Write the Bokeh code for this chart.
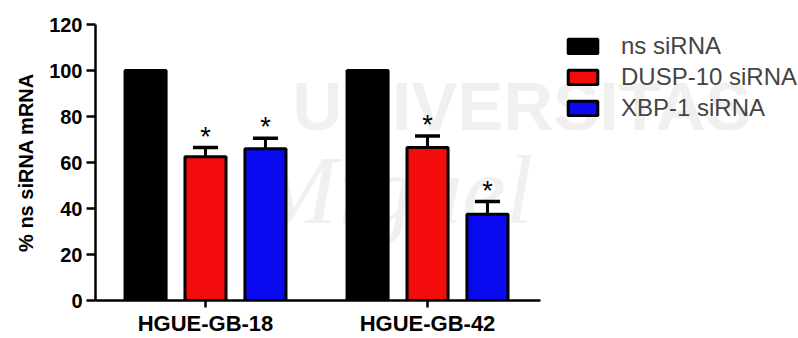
from bokeh.plotting import figure
from bokeh.models import (ColumnDataSource, Range1d, Legend, LegendItem,
                          FixedTicker, Label)
from bokeh.core.properties import value
from bokeh.embed import file_html
from bokeh.resources import INLINE

# Relative mRNA level (% of ns siRNA) per cell line
cell_lines = ["HGUE-GB-18", "HGUE-GB-42"]
series_names = ["ns siRNA", "DUSP-10 siRNA", "XBP-1 siRNA"]
ns_sirna = [100, 100]
dusp10_sirna = [62.5, 66.5]
dusp10_sem = [4.0, 5.0]
xbp1_sirna = [66.0, 37.5]
xbp1_sem = [4.5, 5.5]
y_ticks = [0, 20, 40, 60, 80, 100, 120]

FONT = "Liberation Sans"
BAR_W = 0.185
OFFSETS = [-0.27, 0.0, 0.27]
COLORS = ["#000000", "#f20c0c", "#0a0af0"]
X_START, X_END, AXIS_END = -0.4955, 2.671, 1.509

p = figure(width=798, height=338, x_range=Range1d(X_START, X_END),
           y_range=Range1d(0, 120), output_backend="svg", toolbar_location=None,
           min_border_left=95, min_border_right=0, min_border_top=24,
           min_border_bottom=34)
p.outline_line_color = None
p.xgrid.visible = False
p.ygrid.visible = False
p.background_fill_color = "white"
p.border_fill_color = "white"

# faint watermark behind the chart
for txt, x, y, size, style, font in [
    ("UNIVERSITAS", 197, 156, "69px", "bold", FONT),
    ("Miguel", 160, 57, "98px", "italic", "Liberation Serif"),
]:
    p.add_layout(Label(x=x, y=y, x_units="screen", y_units="screen", text=txt,
                       text_font=font, text_font_size=size, text_font_style=style,
                       text_color="#f0f0f0", level="image"))

group_pos = list(range(len(cell_lines)))
values = [ns_sirna, dusp10_sirna, xbp1_sirna]
errors = [None, dusp10_sem, xbp1_sem]
renderers = []
for name, vals, errs, off, col in zip(series_names, values, errors, OFFSETS, COLORS):
    src = ColumnDataSource(dict(x=[g + off for g in group_pos], val=vals))
    if errs is not None:
        src.data["up"] = [v + e for v, e in zip(vals, errs)]
        p.segment(x0="x", y0="val", x1="x", y1="up", source=src,
                  line_color="black", line_width=3)
        p.scatter(x="x", y="up", marker="dash", size=25, source=src,
                  line_color="black", line_width=3.5)
        # significance markers
        p.text(x="x", y="up", text=value("*"), source=src, text_align="center",
               text_baseline="alphabetic", text_font=value(FONT),
               text_font_size="27px", text_color="black", y_offset=-11)
    r = p.vbar(x="x", top="val", width=BAR_W, bottom=0, source=src,
               fill_color=col, line_color="black", line_width=3)
    renderers.append(r)

legend = Legend(items=[LegendItem(label=n, renderers=[r]) for n, r in zip(series_names, renderers)],
                location=(469, 178), orientation="vertical",
                border_line_color=None, background_fill_alpha=0,
                label_text_font=FONT, label_text_font_size="24px",
                glyph_width=37, glyph_height=18, label_height=28,
                spacing=3, padding=0, margin=0, label_standoff=20)
p.add_layout(legend, "center")

# axes
p.yaxis.ticker = FixedTicker(ticks=y_ticks)
p.yaxis.axis_label = "% ns siRNA mRNA"
p.yaxis.axis_label_text_font = FONT
p.yaxis.axis_label_text_font_style = "bold"
p.yaxis.axis_label_text_font_size = "20px"
p.yaxis.axis_label_text_color = "black"
p.yaxis.axis_label_standoff = 9
p.yaxis.major_label_text_font = FONT
p.yaxis.major_label_text_font_style = "bold"
p.yaxis.major_label_text_font_size = "20px"
p.yaxis.major_label_text_color = "black"
p.yaxis.major_label_standoff = 4
p.yaxis.minor_tick_line_color = None

p.xaxis.ticker = FixedTicker(ticks=group_pos)
p.xaxis.major_label_overrides = {g: name for g, name in zip(group_pos, cell_lines)}
p.xaxis.bounds = (X_START, AXIS_END)
p.xaxis.minor_tick_line_color = None
p.xaxis.major_label_text_font = FONT
p.xaxis.major_label_text_font_style = "bold"
p.xaxis.major_label_text_font_size = "22px"
p.xaxis.major_label_text_color = "black"
p.xaxis.major_label_standoff = 3

for ax in (p.xaxis, p.yaxis):
    ax.axis_line_width = 2.5
    ax.axis_line_color = "black"
    ax.major_tick_line_width = 2.5
    ax.major_tick_line_color = "black"
    ax.major_tick_in = 0
p.yaxis.major_tick_out = 9
p.xaxis.major_tick_out = 7

open("out.html", "w").write(file_html(p, INLINE))
